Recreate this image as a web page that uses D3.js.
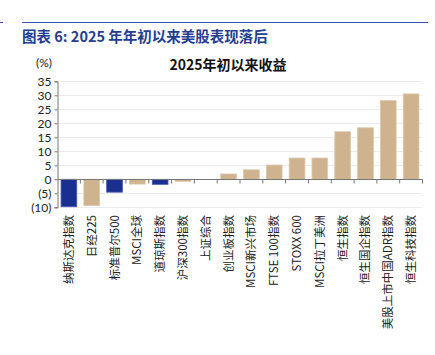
<!DOCTYPE html>
<html><head><meta charset="utf-8">
<script src="https://cdn.jsdelivr.net/npm/d3@7"></script>
<style>
body{margin:0;background:#fff;}
svg{display:block;font-family:"Noto Sans CJK SC","Lato",sans-serif;}
</style></head>
<body>
<svg id="c" width="435" height="355"></svg>
<script>
const categories = ["纳斯达克指数","日经225","标准普尔500","MSCI全球","道琼斯指数","沪深300指数","上证综合","创业板指数","MSCI新兴市场","FTSE 100指数","STOXX 600","MSCI拉丁美洲","恒生指数","恒生国企指数","美股上市中国ADR指数","恒生科技指数"];
const values = [-9.8,-9.4,-4.6,-1.7,-1.8,-0.8,0,1.9,3.4,5.1,7.6,7.6,17.0,18.4,28.1,30.5];
const isUS = [true,false,true,false,true,false,false,false,false,false,false,false,false,false,false,false];
const yTicks = [-10,-5,0,5,10,15,20,25,30,35];
const yTickLabels = ["(10)","(5)","0","5","10","15","20","25","30","35"];

const svg = d3.select("#c");
const blue = "#1b2f91", tan = "#cfb38f";

// header line and title
svg.append("line").attr("x1",22).attr("x2",428).attr("y1",22.5).attr("y2",22.5).attr("stroke","#3a4fae").attr("stroke-width",1);
svg.append("line").attr("x1",0).attr("x2",3).attr("y1",22.5).attr("y2",22.5).attr("stroke","#3a4fae").attr("stroke-width",1);
svg.append("text").attr("x",22).attr("y",41.5).attr("fill","#253d8f").attr("font-size",14.5).attr("font-weight","bold")
  .text("图表 6: 2025 年年初以来美股表现落后");

svg.append("text").attr("x",228).attr("y",69.5).attr("text-anchor","middle").attr("font-size",14).attr("font-weight","bold").attr("fill","#111")
  .text("2025年初以来收益");

const x = d3.scaleBand().domain(categories).range([57.5,422.5]).paddingInner(0.31).paddingOuter(0.155);
const y = d3.scaleLinear().domain([-10,35]).range([207.3,81.3]);

// gridlines
svg.append("g").selectAll("line").data(yTicks.filter(d=>d!==0)).join("line")
  .attr("x1",57.5).attr("x2",422.5).attr("y1",d=>Math.round(y(d))+0.5).attr("y2",d=>Math.round(y(d))+0.5)
  .attr("stroke","#ececec").attr("stroke-width",1);

// y axis
const yAxis = d3.axisLeft(y).tickValues(yTicks).tickFormat((d,i)=>yTickLabels[i]).tickSize(3).tickPadding(3);
const gy = svg.append("g").attr("transform","translate(57.5,0)").call(yAxis);
gy.select(".domain").attr("stroke","#777");
gy.selectAll(".tick line").attr("stroke","#777");
gy.selectAll(".tick text").attr("font-family","Lato, 'DejaVu Sans', sans-serif").attr("font-size",12).attr("fill","#222");
svg.append("text").attr("x",52).attr("y",67).attr("text-anchor","end").attr("font-family","Lato, sans-serif").attr("font-size",12).attr("fill","#222").text("(%)");

// bars
svg.append("g").selectAll("rect").data(categories).join("rect")
  .attr("x",d=>x(d)).attr("width",x.bandwidth())
  .attr("y",(d,i)=>y(Math.max(0,values[i])))
  .attr("height",(d,i)=>Math.abs(y(values[i])-y(0)))
  .attr("fill",(d,i)=>isUS[i]?blue:tan)
  .attr("stroke",(d,i)=>isUS[i]?"#4a5cb0":"#ddc8ab").attr("stroke-width",0.8);

// x axis at zero
const y0 = Math.round(y(0))+0.5;
svg.append("line").attr("x1",57.5).attr("x2",422.5).attr("y1",y0).attr("y2",y0).attr("stroke","#777");
const bounds = d3.range(1,categories.length+1).map(i=>57.5+ i*x.step());
svg.append("g").selectAll("line").data(bounds).join("line")
  .attr("x1",d=>d).attr("x2",d=>d).attr("y1",y0).attr("y2",y0+4).attr("stroke","#777");

// category labels
svg.append("g").selectAll("text").data(categories).join("text")
  .attr("transform",d=>`translate(${x(d)+x.bandwidth()/2+4},215) rotate(-90)`)
  .attr("text-anchor","end").attr("font-size",11.5).attr("fill","#222")
  .text(d=>d);
</script>
</body></html>
